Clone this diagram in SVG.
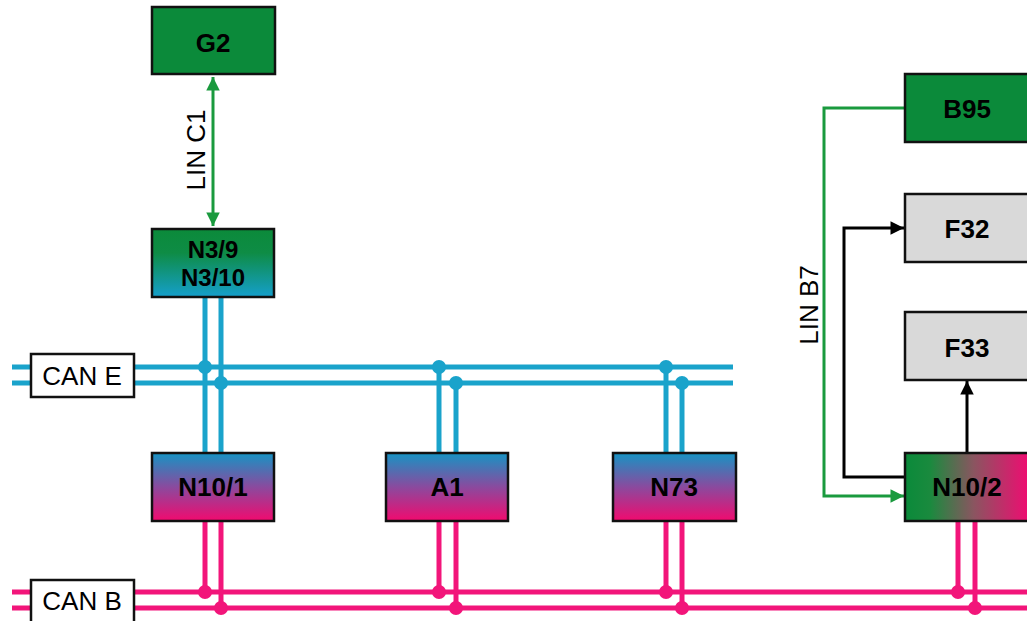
<svg xmlns="http://www.w3.org/2000/svg" width="1027" height="621" viewBox="0 0 1027 621">
<defs>
<linearGradient id="gBluePink" x1="0" y1="0" x2="0" y2="1"><stop offset="0" stop-color="#1694c4"/><stop offset="0.5" stop-color="#8a4a9e"/><stop offset="1" stop-color="#f20a6e"/></linearGradient>
<linearGradient id="gGreenBlue" x1="0" y1="0" x2="0" y2="1"><stop offset="0" stop-color="#0b8a3a"/><stop offset="0.35" stop-color="#0e8c45"/><stop offset="1" stop-color="#159fcc"/></linearGradient>
<linearGradient id="gGreenPink" x1="0" y1="0" x2="1" y2="0"><stop offset="0" stop-color="#0a8a3a"/><stop offset="0.2" stop-color="#1a8a3e"/><stop offset="0.55" stop-color="#8a5560"/><stop offset="1" stop-color="#f20a72"/></linearGradient>
<marker id="agreen" viewBox="0 0 10 10" refX="10" refY="5" markerWidth="6" markerHeight="4.5" orient="auto-start-reverse" markerUnits="strokeWidth"><path d="M0,0 L10,5 L0,10 z" fill="#1a9a3e"/></marker>
<marker id="ablack" viewBox="0 0 10 10" refX="10" refY="5" markerWidth="6" markerHeight="4.5" orient="auto" markerUnits="strokeWidth"><path d="M0,0 L10,5 L0,10 z" fill="#000"/></marker>
</defs>
<style>
.box{stroke:#111;stroke-width:2.5}
.lbl{font-family:"Liberation Sans",Arial,sans-serif;font-weight:bold;font-size:26px;fill:#000;text-anchor:middle}
.reg{font-family:"Liberation Sans",Arial,sans-serif;font-size:26px;fill:#000;text-anchor:middle}
.blue{stroke:#1aa3cb;stroke-width:5;fill:none}
.pink{stroke:#f2157a;stroke-width:5;fill:none}
.green{stroke:#1a9a3e;stroke-width:3;fill:none}
.black{stroke:#000;stroke-width:3;fill:none}
.db{fill:#1aa3cb}
.dp{fill:#f2157a}
</style>
<rect width="1027" height="621" fill="#fff"/>
<g id="connectors">
<line class="blue" x1="12" y1="367" x2="733" y2="367"/>
<line class="blue" x1="12" y1="383" x2="733" y2="383"/>
<line class="pink" x1="12" y1="592" x2="1027" y2="592"/>
<line class="pink" x1="12" y1="608" x2="1027" y2="608"/>
<line class="blue" x1="205" y1="297" x2="205" y2="453"/>
<line class="blue" x1="221" y1="297" x2="221" y2="453"/>
<line class="blue" x1="439" y1="367" x2="439" y2="453"/>
<line class="blue" x1="456" y1="383" x2="456" y2="453"/>
<line class="blue" x1="666" y1="367" x2="666" y2="453"/>
<line class="blue" x1="682" y1="383" x2="682" y2="453"/>
<line class="pink" x1="205" y1="521" x2="205" y2="592"/>
<line class="pink" x1="221" y1="521" x2="221" y2="608"/>
<line class="pink" x1="439" y1="521" x2="439" y2="592"/>
<line class="pink" x1="456" y1="521" x2="456" y2="608"/>
<line class="pink" x1="666" y1="521" x2="666" y2="592"/>
<line class="pink" x1="682" y1="521" x2="682" y2="608"/>
<line class="pink" x1="958" y1="521" x2="958" y2="592"/>
<line class="pink" x1="975" y1="521" x2="975" y2="608"/>
<circle class="db" cx="205" cy="367" r="7"/>
<circle class="db" cx="221" cy="383" r="7"/>
<circle class="db" cx="439" cy="367" r="7"/>
<circle class="db" cx="456" cy="383" r="7"/>
<circle class="db" cx="666" cy="367" r="7"/>
<circle class="db" cx="682" cy="383" r="7"/>
<circle class="dp" cx="205" cy="592" r="7"/>
<circle class="dp" cx="221" cy="608" r="7"/>
<circle class="dp" cx="439" cy="592" r="7"/>
<circle class="dp" cx="456" cy="608" r="7"/>
<circle class="dp" cx="666" cy="592" r="7"/>
<circle class="dp" cx="682" cy="608" r="7"/>
<circle class="dp" cx="958" cy="592" r="7"/>
<circle class="dp" cx="975" cy="608" r="7"/>
<line class="green" x1="213" y1="77" x2="213" y2="226" marker-start="url(#agreen)" marker-end="url(#agreen)"/>
<text class="reg" transform="translate(205,150) rotate(-90)">LIN C1</text>
<polyline class="green" points="905,108 824,108 824,496 904,496" marker-end="url(#agreen)"/>
<text class="reg" transform="translate(818,305) rotate(-90)">LIN B7</text>
<polyline class="black" points="905,477 844,477 844,228 904,228" marker-end="url(#ablack)"/>
<line class="black" x1="967" y1="453" x2="967" y2="381" marker-end="url(#ablack)"/>
</g>
<g id="G2"><rect class="box" x="152" y="7" width="123" height="67" fill="#0b8a3a"/><text class="lbl" x="213" y="52">G2</text></g>
<g id="N3-9"><rect class="box" x="152" y="229" width="122" height="68" fill="url(#gGreenBlue)"/><text class="lbl" x="213" y="258" style="font-size:24px">N3/9</text><text class="lbl" x="213" y="286" style="font-size:24px">N3/10</text></g>
<g id="CAN-E"><rect class="box" x="31" y="354" width="103" height="43" fill="#fff"/><text class="reg" x="82" y="385">CAN E</text></g>
<g id="CAN-B"><rect class="box" x="31" y="580" width="103" height="43" fill="#fff"/><text class="reg" x="82" y="610">CAN B</text></g>
<g id="N10-1"><rect class="box" x="152" y="453" width="122" height="68" fill="url(#gBluePink)"/><text class="lbl" x="213" y="496">N10/1</text></g>
<g id="A1"><rect class="box" x="386" y="453" width="122" height="68" fill="url(#gBluePink)"/><text class="lbl" x="447" y="496">A1</text></g>
<g id="N73"><rect class="box" x="613" y="453" width="123" height="68" fill="url(#gBluePink)"/><text class="lbl" x="674" y="496">N73</text></g>
<g id="B95"><rect class="box" x="905" y="74" width="125" height="68" fill="#0b8a3a"/><text class="lbl" x="967" y="118">B95</text></g>
<g id="F32"><rect class="box" x="905" y="194" width="125" height="68" fill="#d9d9d9"/><text class="lbl" x="967" y="238">F32</text></g>
<g id="F33"><rect class="box" x="905" y="312" width="125" height="68" fill="#d9d9d9"/><text class="lbl" x="967" y="357">F33</text></g>
<g id="N10-2"><rect class="box" x="905" y="453" width="125" height="68" fill="url(#gGreenPink)"/><text class="lbl" x="967" y="496">N10/2</text></g>
</svg>
